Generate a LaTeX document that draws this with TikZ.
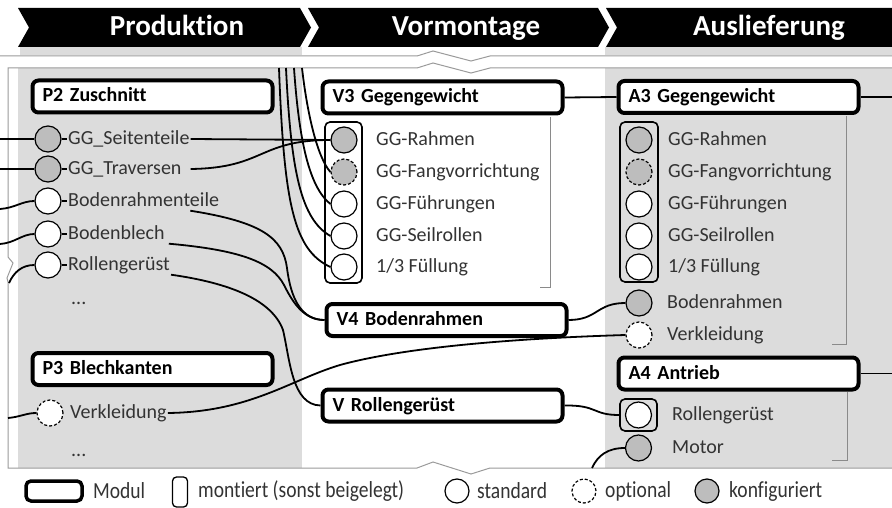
\documentclass[tikz,border=0pt]{standalone}
\usepackage{fontspec}
\setmainfont{Carlito}[Ligatures=NoCommon]
\newfontfamily\legendfont[FakeStretch=0.85,Ligatures=NoCommon]{Carlito}
\usetikzlibrary{calc}
\definecolor{colbg}{HTML}{DCDCDC}
\definecolor{cfg}{HTML}{BDBDBD}
\definecolor{txt}{HTML}{333333}
\definecolor{framegray}{HTML}{9A9A9A}
\definecolor{brk}{HTML}{8A8A8A}
\begin{document}
\begin{tikzpicture}[x=1pt,y=-1pt,
  phase/.style={text=white, font=\bfseries\fontsize{29}{33}\selectfont,
    text height=20pt, text depth=5pt, inner sep=0pt},
  module/.style={draw, line width=4pt, rounded corners=6pt, fill=white,
    text width=220pt, inner xsep=10pt, inner ysep=0pt, minimum height=32pt,
    align=left, font=\bfseries\fontsize{20}{24}\selectfont,
    text height=14pt, text depth=3pt},
  pt/.style={circle, draw, line width=1.2pt, minimum size=26pt, inner sep=0pt, fill=white},
  konf/.style={fill=cfg},
  opt/.style={dash pattern=on 3pt off 2pt},
  mont/.style={draw, line width=1.6pt, rounded corners=5pt, inner sep=0pt},
  lbl/.style={anchor=west, inner sep=1pt, text height=14pt, text depth=3pt,
    text=txt, font=\fontsize{20}{24}\selectfont},
  leg/.style={anchor=west, inner sep=1pt, text=txt, font=\legendfont\fontsize{23}{26}\selectfont},
  wire/.style={line width=1.8pt, black},
  stub/.style={line width=1.2pt, black},
  frame/.style={line width=1pt, framegray},
  bracket/.style={line width=0.9pt, brk}]
\useasboundingbox (0,0) rectangle (892,508);

% column backgrounds
\fill[colbg] (18,68) rectangle (302,468);
\fill[colbg] (605,68) rectangle (892,468);
\fill[colbg] (20,47) rectangle (302,55);
\fill[colbg] (605,47) rectangle (892,55);

% phase chevrons
\fill (18,8) -- (300,8) -- (311,27.5) -- (300,47) -- (18,47) -- (29,27.5) -- cycle;
\fill (308,8) -- (598,8) -- (609,27.5) -- (598,47) -- (308,47) -- (319,27.5) -- cycle;
\fill (606,8) -- (900,8) -- (911,27.5) -- (900,47) -- (606,47) -- (617,27.5) -- cycle;
\node[phase] (ph1) at (177,28) {Produktion};
\node[phase] (ph2) at (466,28) {Vormontage};
\node[phase] (ph3) at (769,28) {Auslieferung};

% frame with break marks
\draw[frame] (0,56) -- (417,56) -- (433,51) -- (471,61) -- (490,56) -- (892,56);
\draw[frame] (892,68) -- (490,68) -- (471,73) -- (433,63) -- (417,68) -- (8,68)
  -- (8,257) -- (13,263) -- (7,278) -- (8,282) -- (8,468)
  -- (417,468) -- (433,462) -- (471,474) -- (490,468) -- (892,468);

% group brackets
\draw[bracket] (550,117) -- (550,287) -- (540,287);
\draw[bracket] (846,116) -- (846,344) -- (832,344);
\draw[bracket] (847,392) -- (847,460) -- (832,460);

% modules
\node[module] (P2) at (152.5,96.5) {P2 Zuschnitt};
\node[module] (P3) at (152.5,369) {P3 Blechkanten};
\node[module] (V3) at (442.5,97.5) {V3 Gegengewicht};
\node[module] (V4) at (446.5,320) {V4 Bodenrahmen};
\node[module] (VR) at (442.5,405.5) {V Rollengerüst};
\node[module] (A3) at (738.5,97) {A3 Gegengewicht};
\node[module] (A4) at (738.5,373.5) {A4 Antrieb};

% mounted groups
\node[mont, minimum width=37pt, minimum height=161pt] (mV3) at (343.5,202.5) {};
\node[mont, minimum width=38pt, minimum height=160pt] (mA3) at (639,202) {};
\node[mont, minimum width=37pt, minimum height=32pt] (mA4) at (638.5,415) {};

% production parts
\node[pt, konf] (s1) at (48,139) {};
\node[pt, konf] (s2) at (48,169) {};
\node[pt] (s3) at (48,201) {};
\node[pt] (s4) at (48,234) {};
\node[pt] (s5) at (48,265) {};
\node[pt, opt] (pv) at (50,413) {};
\node[lbl] (l1) at (67,139) {GG\_Seitenteile};
\node[lbl] (l2) at (67,169) {GG\_Traversen};
\node[lbl] (l3) at (67,201) {Bodenrahmenteile};
\node[lbl] (l4) at (67,234) {Bodenblech};
\node[lbl] (l5) at (67,265) {Rollengerüst};
\node[lbl] (lv) at (69,413) {Verkleidung};
\node[lbl] (d1) at (70,299) {...};
\node[lbl] (d2) at (70,451) {...};

% V3 parts
\node[pt, konf] (r1) at (344,140) {};
\node[pt, konf, opt] (r2) at (344,172) {};
\node[pt] (r3) at (344,204) {};
\node[pt] (r4) at (344,236) {};
\node[pt] (r5) at (344,267) {};
\node[lbl] (rl1) at (375,140) {GG-Rahmen};
\node[lbl] (rl2) at (375,172) {GG-Fangvorrichtung};
\node[lbl] (rl3) at (375,204) {GG-Führungen};
\node[lbl] (rl4) at (375,236) {GG-Seilrollen};
\node[lbl] (rl5) at (375,267) {1/3 Füllung};

% A3 parts
\node[pt, konf] (a1) at (639,140) {};
\node[pt, konf, opt] (a2) at (639,172) {};
\node[pt] (a3) at (639,204) {};
\node[pt] (a4) at (639,236) {};
\node[pt] (a5) at (639,267) {};
\node[pt, konf] (ab) at (639,303) {};
\node[pt, opt] (av) at (639,335) {};
\node[lbl] (al1) at (667,140) {GG-Rahmen};
\node[lbl] (al2) at (667,172) {GG-Fangvorrichtung};
\node[lbl] (al3) at (667,204) {GG-Führungen};
\node[lbl] (al4) at (667,236) {GG-Seilrollen};
\node[lbl] (al5) at (667,267) {1/3 Füllung};
\node[lbl] (alb) at (666,303) {Bodenrahmen};
\node[lbl] (alv) at (666,335) {Verkleidung};

% A4 parts
\node[pt] (ar) at (638.5,415) {};
\node[pt, konf] (am) at (638.5,448) {};
\node[lbl] (alr) at (671,415) {Rollengerüst};
\node[lbl] (alm) at (671,448) {Motor};

% free ends
\coordinate (in1) at (0,139);
\coordinate (in2) at (0,169);
\coordinate (in3) at (0,209);
\coordinate (in4) at (0,244);
\coordinate (in5) at (9,283);
\coordinate (in6) at (8,418);
\coordinate (t2) at (302,68);
\coordinate (t3) at (294,68);
\coordinate (t4) at (286,68);
\coordinate (t5) at (279,68);
\coordinate (motIn) at (592,468);
\coordinate (outA3) at (892,97);
\coordinate (outA4) at (892,373.5);

% part stubs
\foreach \i in {1,...,5} {\draw[stub] (s\i.east) -- (l\i.west);}

% incoming from the left
\draw[wire] (in1) -- (s1.west);
\draw[wire] (in2) -- (s2.west);
\draw[wire] (in3) .. controls (15,208) and (22,201) .. (s3.west);
\draw[wire] (in4) .. controls (15,243) and (22,234) .. (s4.west);
\draw[wire] (in5) .. controls (14,272) and (22,265) .. (s5.west);
\draw[wire] (in6) .. controls (20,417) and (26,413) .. (pv.west);

% incoming from above into V3
\draw[wire] (t2) .. controls (307,112) and (317,157) .. (r2.west);
\draw[wire] (t3) .. controls (299,140) and (309,187) .. (r3.west);
\draw[wire] (t4) .. controls (291,172) and (301,219) .. (r4.west);
\draw[wire] (t5) .. controls (284,205) and (294,250) .. (r5.west);

% production to pre-assembly
\draw[wire] (l1.east) -- (r1.west);
\draw[wire] ([xshift=8pt]l2.east) .. controls (265,168) and (258,140) .. (r1.west);
\draw[wire] ([xshift=-30pt]l3.south east) .. controls (262,222) and (283,238) .. (287,268)
  .. controls (291,300) and (302,320) .. (V4.west);
\draw[wire] ([xshift=3pt]l4.south east) .. controls (240,250) and (272,262) .. (284,285)
  .. controls (294,305) and (305,320) .. (V4.west);
\draw[wire] (l5.south east) .. controls (230,283) and (272,300) .. (283,330)
  .. controls (290,360) and (292,405) .. (VR.west);
\draw[wire] (lv.east) .. controls (250,412) and (290,380) .. (340,365)
  .. controls (420,343) and (560,337) .. (av.west);

% pre-assembly to delivery
\draw[wire] (V3.east) -- (A3.west);
\draw[wire] (V4.east) .. controls (598,320) and (596,303) .. (ab.west);
\draw[wire] (VR.east) .. controls (598,405) and (592,415) .. (mA4.west);
\draw[wire] (motIn) .. controls (598,455) and (608,448) .. (am.west);
\draw[wire] (A3.east) -- (outA3);
\draw[wire] (A4.east) -- (outA4);

% legend
\node[draw, line width=3.5pt, rounded corners=5pt, minimum width=56pt, minimum height=20pt, inner sep=0pt] (kMod) at (54,491) {};
\node[leg] (kModT) at (92,491) {Modul};
\node[mont, line width=1.3pt, rounded corners=4pt, minimum width=15pt, minimum height=30pt] (kMont) at (180,492) {};
\node[leg] (kMontT) at (197,491) {montiert (sonst beigelegt)};
\node[pt, minimum size=24pt] (kStd) at (457,491) {};
\node[leg] (kStdT) at (476,491) {standard};
\node[pt, opt, minimum size=24pt] (kOpt) at (584,491) {};
\node[leg] (kOptT) at (604,491) {optional};
\node[pt, konf, minimum size=24pt] (kKonf) at (707,491) {};
\node[leg] (kKonfT) at (728,491) {konfiguriert};
\end{tikzpicture}
\end{document}
